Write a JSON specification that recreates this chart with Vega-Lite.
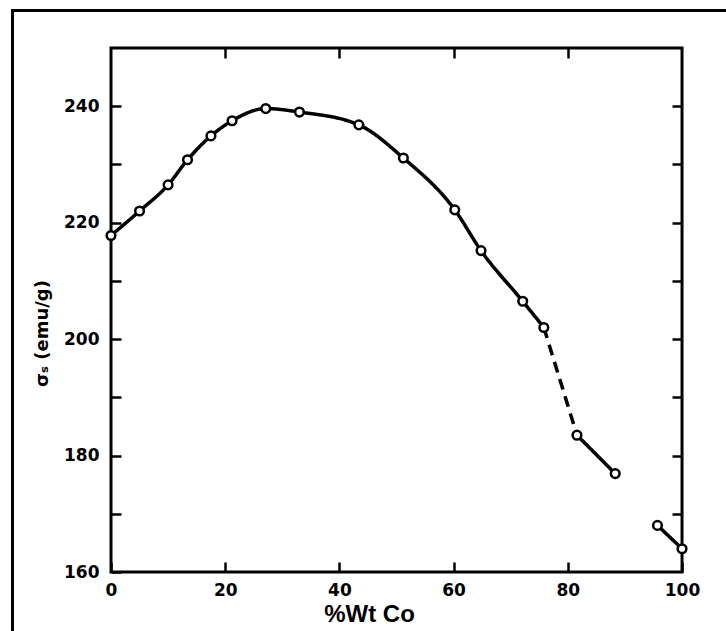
{
  "$schema": "https://vega.github.io/schema/vega-lite/v6.json",
  "width": 714,
  "height": 621,
  "autosize": {"type": "none"},
  "padding": {"left": 12, "top": 10, "right": 0, "bottom": 0},
  "background": "white",
  "config": {
    "view": {"stroke": null},
    "axis": {"grid": false, "labelFont": "DejaVu Sans", "titleFont": "DejaVu Sans", "labelColor": "black", "titleColor": "black"}
  },
  "datasets": {
    "frame": [{"x0": 0, "x1": 100, "y0": 160, "y1": 250}],
    "lines": [
      {"x": 0, "y": 217.8, "seg": "A", "style": "solid"},
      {"x": 5.0, "y": 222.0, "seg": "A", "style": "solid"},
      {"x": 10.0, "y": 226.5, "seg": "A", "style": "solid"},
      {"x": 13.4, "y": 230.8, "seg": "A", "style": "solid"},
      {"x": 17.5, "y": 234.9, "seg": "A", "style": "solid"},
      {"x": 21.2, "y": 237.5, "seg": "A", "style": "solid"},
      {"x": 27.1, "y": 239.6, "seg": "A", "style": "solid"},
      {"x": 33.0, "y": 239.0, "seg": "A", "style": "solid"},
      {"x": 43.4, "y": 236.8, "seg": "A", "style": "solid"},
      {"x": 51.2, "y": 231.1, "seg": "A", "style": "solid"},
      {"x": 60.2, "y": 222.2, "seg": "A", "style": "solid"},
      {"x": 64.8, "y": 215.2, "seg": "A", "style": "solid"},
      {"x": 72.1, "y": 206.5, "seg": "A", "style": "solid"},
      {"x": 75.8, "y": 202.0, "seg": "A", "style": "solid"},
      {"x": 75.8, "y": 202.0, "seg": "B", "style": "dashed"},
      {"x": 81.6, "y": 183.5, "seg": "B", "style": "dashed"},
      {"x": 81.6, "y": 183.5, "seg": "C", "style": "solid"},
      {"x": 88.3, "y": 176.9, "seg": "C", "style": "solid"},
      {"x": 95.7, "y": 168.0, "seg": "D", "style": "solid"},
      {"x": 100, "y": 164.0, "seg": "D", "style": "solid"}
    ],
    "pts": [
      {"x": 0, "y": 217.8},
      {"x": 5.0, "y": 222.0},
      {"x": 10.0, "y": 226.5},
      {"x": 13.4, "y": 230.8},
      {"x": 17.5, "y": 234.9},
      {"x": 21.2, "y": 237.5},
      {"x": 27.1, "y": 239.6},
      {"x": 33.0, "y": 239.0},
      {"x": 43.4, "y": 236.8},
      {"x": 51.2, "y": 231.1},
      {"x": 60.2, "y": 222.2},
      {"x": 64.8, "y": 215.2},
      {"x": 72.1, "y": 206.5},
      {"x": 75.8, "y": 202.0},
      {"x": 81.6, "y": 183.5},
      {"x": 88.3, "y": 176.9},
      {"x": 95.7, "y": 168.0},
      {"x": 100, "y": 164.0}
    ]
  },
  "resolve": {"axis": {"x": "independent", "y": "independent"}},
  "layer": [
    {
      "data": {"name": "frame"},
      "mark": {"type": "rect", "fill": null, "stroke": "black", "strokeWidth": 3},
      "encoding": {
        "x": {
          "field": "x0", "type": "quantitative",
          "scale": {"domain": [-17.338, 107.7], "nice": false, "zero": false},
          "axis": {
            "orient": "bottom", "offset": -59, "domain": false,
            "values": [0, 20, 40, 60, 80, 100],
            "tickSize": -10, "tickWidth": 2.5, "tickColor": "black",
            "labelPadding": 20, "labelFontSize": 17, "labelFontWeight": "bold",
            "title": "%Wt Co", "titleFont": "Liberation Sans", "titleFontSize": 24, "titleFontWeight": "bold", "titlePadding": 4
          }
        },
        "x2": {"field": "x1"},
        "y": {
          "field": "y0", "type": "quantitative",
          "scale": {"domain": [149.867, 256.527], "nice": false, "zero": false},
          "axis": {
            "orient": "left", "offset": -99, "domain": false,
            "values": [160, 170, 180, 190, 200, 210, 220, 230, 240],
            "labelExpr": "datum.value % 20 == 0 ? datum.label : ''",
            "tickSize": -10, "tickWidth": 2.5, "tickColor": "black",
            "labelPadding": 22, "labelFontSize": 17, "labelFontWeight": "bold",
            "title": "σₛ (emu/g)", "titleFontSize": 18, "titleFontWeight": "bold", "titlePadding": 12, "titleY": 323
          }
        },
        "y2": {"field": "y1"}
      }
    },
    {
      "data": {"name": "lines"},
      "mark": {"type": "line", "interpolate": "monotone", "strokeWidth": 3.5, "color": "black"},
      "encoding": {
        "x": {
          "field": "x", "type": "quantitative",
          "scale": {"domain": [-17.338, 107.7], "nice": false, "zero": false},
          "axis": {
            "orient": "top", "offset": -38, "domain": false, "labels": false, "title": null,
            "values": [20, 40, 60, 80],
            "tickSize": -10, "tickWidth": 2.5, "tickColor": "black"
          }
        },
        "y": {
          "field": "y", "type": "quantitative",
          "scale": {"domain": [149.867, 256.527], "nice": false, "zero": false},
          "axis": {
            "orient": "right", "offset": -44, "domain": false, "labels": false, "title": null,
            "values": [170, 180, 190, 200, 210, 220, 230, 240],
            "tickSize": -10, "tickWidth": 2.5, "tickColor": "black"
          }
        },
        "detail": {"field": "seg"},
        "strokeDash": {
          "field": "style", "type": "nominal",
          "scale": {"domain": ["solid", "dashed"], "range": [[1, 0], [11, 7]]},
          "legend": null
        }
      }
    },
    {
      "data": {"name": "pts"},
      "mark": {"type": "point", "shape": "circle", "filled": true, "fill": "white", "stroke": "black", "strokeWidth": 2.5, "size": 75, "opacity": 1},
      "encoding": {
        "x": {
          "field": "x", "type": "quantitative",
          "scale": {"domain": [-17.338, 107.7], "nice": false, "zero": false},
          "axis": {
            "orient": "top", "offset": 0, "domain": true, "domainColor": "black", "domainWidth": 3, "domainCap": "square",
            "ticks": false, "labels": false, "title": null
          }
        },
        "y": {
          "field": "y", "type": "quantitative",
          "scale": {"domain": [149.867, 256.527], "nice": false, "zero": false},
          "axis": {
            "orient": "left", "offset": 0, "domain": true, "domainColor": "black", "domainWidth": 3, "domainCap": "square",
            "ticks": false, "labels": false, "title": null
          }
        }
      }
    }
  ]
}
